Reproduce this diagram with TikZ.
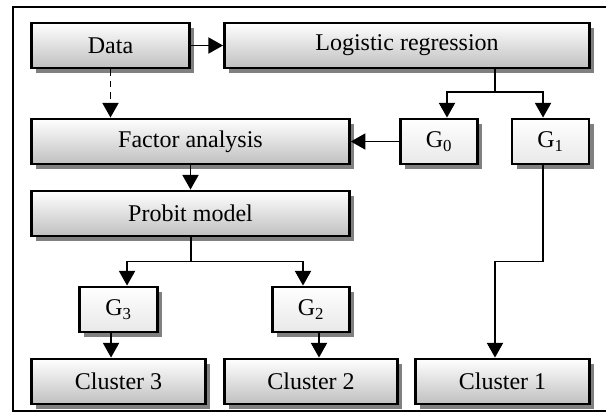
\documentclass[tikz,border=0pt]{standalone}
\usepackage{fontspec}
\setmainfont{Liberation Serif}
\usetikzlibrary{arrows.meta,shadows}

\tikzset{
  stagebox/.style={draw=black, line width=1.9pt, top color=white, bottom color=black!25,
    minimum height=34pt, inner sep=0pt,
    drop shadow={shadow xshift=3.6pt, shadow yshift=-3.6pt, fill=black!50, opacity=1},
    font=\fontsize{18}{20}\selectfont},
  groupbox/.style={stagebox, bottom color=black!9},
  flow/.style={line width=1.4pt, -{Triangle[length=11pt,width=12pt]}},
  link/.style={line width=1.4pt},
}

\begin{document}
\begin{tikzpicture}[x=0.75pt,y=0.75pt,yscale=-1,xscale=1]
\useasboundingbox (0,0) rectangle (606,414);

%frame
\draw[line width=1.3pt] (612,7) -- (13,7) -- (13,411) -- (612,411);

%boxes
\node[stagebox, minimum width=118.5pt] (data) at (110.5,45.5) {Data};
\node[stagebox, minimum width=274pt] (logit) at (407,45.5) {Logistic regression};
\node[stagebox, minimum width=238.5pt] (factor) at (190.5,141.5) {Factor analysis};
\node[groupbox, minimum width=58pt] (g0) at (439,141.5) {G\textsubscript{0}};
\node[groupbox, minimum width=57.5pt] (g1) at (550.5,141.5) {G\textsubscript{1}};
\node[stagebox, minimum width=238.5pt] (probit) at (190.5,213.5) {Probit model};
\node[groupbox, minimum width=58.5pt] (g3) at (118.5,309.5) {G\textsubscript{3}};
\node[groupbox, minimum width=58pt] (g2) at (311,309.5) {G\textsubscript{2}};
\node[stagebox, minimum width=130.5pt] (c3) at (118.5,381.5) {Cluster 3};
\node[stagebox, minimum width=130pt] (c2) at (311,381.5) {Cluster 2};
\node[stagebox, minimum width=130.5pt] (c1) at (502.5,381.5) {Cluster 1};

%forks
\coordinate (lfork) at (495,92);
\coordinate (cfork) at (495,261.5);
\coordinate (pfork) at (191,261.5);

%connectors
\draw[flow] (data) -- (logit);
\draw[flow, dash pattern=on 5pt off 3.5pt] (data) -- (data |- factor.north);
\draw[flow] (factor) -- (probit);
\draw[link] (logit.south -| lfork) -- (lfork);
\draw[flow] (lfork) -| ([xshift=6pt]g0.north);
\draw[flow] (lfork) -| ([xshift=-5.6pt]g1.north);
\draw[flow] (g0) -- (factor);
\draw[flow] ([xshift=-5.6pt]g1.south) |- (cfork) -- (c1.north -| cfork);
\draw[link] (probit.south -| pfork) -- (pfork);
\draw[flow] (pfork) -| ([xshift=6.4pt]g3.north);
\draw[flow] (pfork) -| ([xshift=-6pt]g2.north);
\draw[flow] ([xshift=-5.6pt]g3.south) -- ([xshift=-5.6pt]g3.south |- c3.north);
\draw[flow] ([xshift=6pt]g2.south) -- ([xshift=6pt]g2.south |- c2.north);

\end{tikzpicture}
\end{document}
